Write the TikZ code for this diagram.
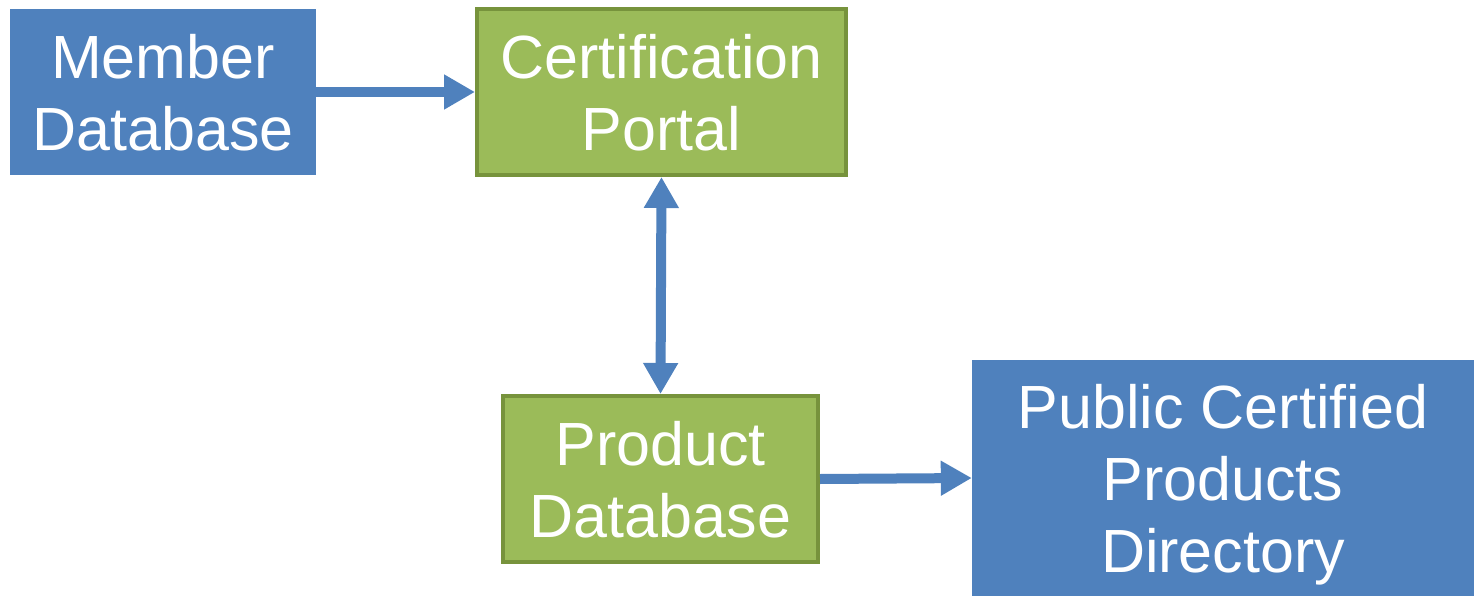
\documentclass[tikz,border=0pt]{standalone}
\usepackage{fontspec}
\setmainfont{Liberation Sans}
\usetikzlibrary{arrows.meta}
\definecolor{dbblue}{HTML}{4F81BD}
\definecolor{portalgreen}{HTML}{9BBB59}
\definecolor{portalrim}{HTML}{77933C}
\tikzset{
    dbbox/.style={fill=dbblue,text=white,align=center,inner sep=0pt,text depth=0pt},
    greenbox/.style={dbbox,fill=portalgreen,draw=portalrim,line width=4pt},
    flow/.style={draw=dbblue,line width=10pt,-{Triangle[length=31pt,width=33pt]}},
    twoway/.style={flow,{Triangle[length=31pt,width=33pt]}-{Triangle[length=31pt,width=33pt]}}
}

\begin{document}
\begin{tikzpicture}[x=1pt,y=-1pt,font=\fontsize{61pt}{72pt}\selectfont]
\useasboundingbox (0,0) rectangle (1474,596);
\node[dbbox,minimum width=306pt,minimum height=166pt] (member) at (163,92) {Member\\Database};
\node[greenbox,minimum width=369pt,minimum height=166pt] (portal) at (661.5,92) {Certification\\Portal};
\node[greenbox,minimum width=315pt,minimum height=166pt] (product) at (660.5,479) {Product\\Database};
\node[dbbox,minimum width=502pt,minimum height=236pt] (directory) at (1223,478) {Public Certified\\Products\\Directory};
\draw[flow] (member.east)--(portal.west);
\draw[twoway] (portal.south)--(product.north);
\draw[flow] (product.east)--(directory.west);
\end{tikzpicture}
\end{document}
